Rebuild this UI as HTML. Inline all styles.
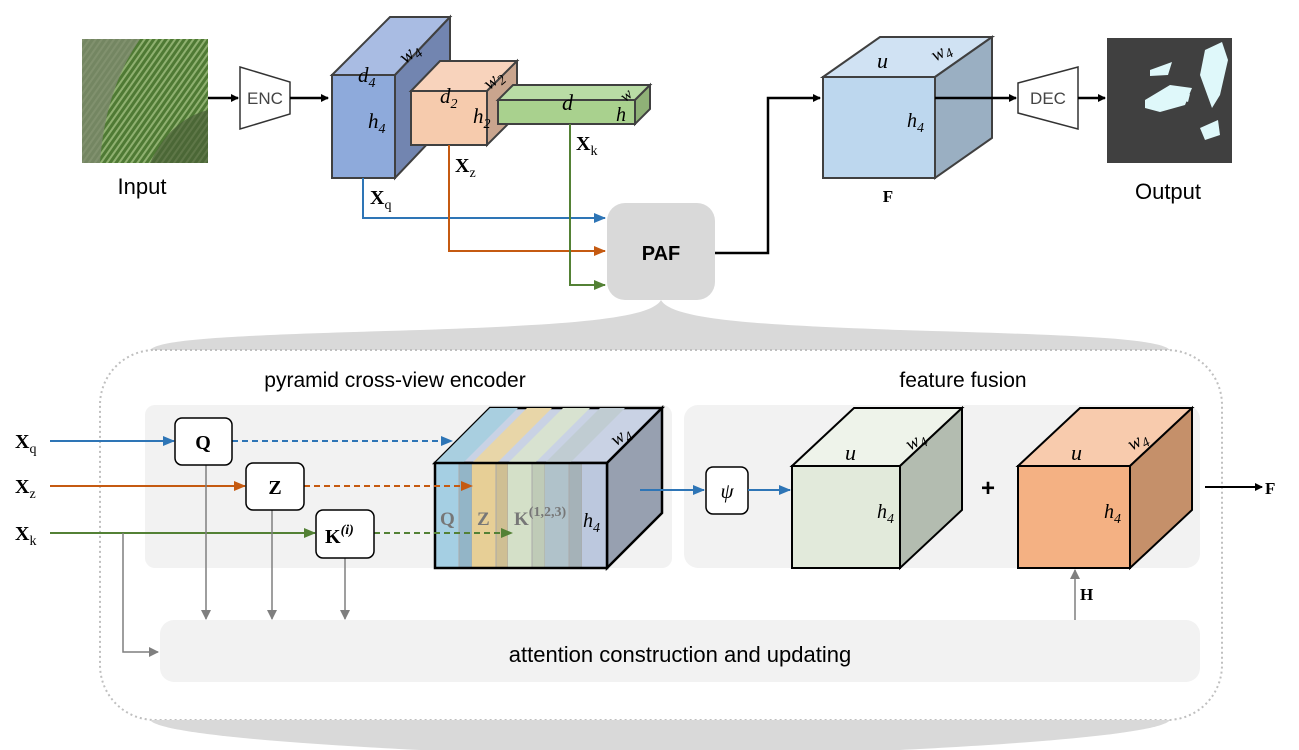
<!DOCTYPE html>
<html><head><meta charset="utf-8"><style>
body{margin:0;background:#fff}
svg{display:block}
text{font-family:"Liberation Sans",sans-serif}
.m{font-family:"Liberation Serif",serif;font-style:italic}
.b{font-family:"Liberation Serif",serif;font-weight:bold}
</style></head><body>
<svg width="1299" height="750" viewBox="0 0 1299 750" xmlns="http://www.w3.org/2000/svg">
<defs>
<marker id="ak" markerWidth="8" markerHeight="8" refX="7" refY="4" orient="auto" markerUnits="userSpaceOnUse"><path d="M0,0 L8,4 L0,8z" fill="#000"/></marker>
<marker id="ab" markerWidth="12" markerHeight="10" refX="11" refY="5" orient="auto" markerUnits="userSpaceOnUse"><path d="M0,0 L12,5 L0,10z" fill="#2e75b6"/></marker>
<marker id="ao" markerWidth="12" markerHeight="10" refX="11" refY="5" orient="auto" markerUnits="userSpaceOnUse"><path d="M0,0 L12,5 L0,10z" fill="#c55a11"/></marker>
<marker id="ag" markerWidth="12" markerHeight="10" refX="11" refY="5" orient="auto" markerUnits="userSpaceOnUse"><path d="M0,0 L12,5 L0,10z" fill="#538135"/></marker>
<marker id="ay" markerWidth="10" markerHeight="10" refX="9" refY="5" orient="auto" markerUnits="userSpaceOnUse"><path d="M0,0 L10,5 L0,10z" fill="#7f7f7f"/></marker>
<pattern id="stripe" width="5" height="5" patternUnits="userSpaceOnUse" patternTransform="rotate(35)"><rect width="5" height="5" fill="#4f7a34"/><rect width="2" height="5" fill="#8fb070"/></pattern>
</defs>

<!-- Input -->
<rect x="82" y="39" width="126" height="124" fill="url(#stripe)"/>
<path d="M82,39 L140,39 Q105,90 100,163 L82,163z" fill="#7d8a6e" opacity=".8"/>
<path d="M150,163 Q170,120 208,110 L208,163z" fill="#4a5f38" opacity=".7"/>
<text x="142" y="194" font-size="22" text-anchor="middle">Input</text>
<line x1="208" y1="98" x2="238" y2="98" stroke="#000" stroke-width="2.5" marker-end="url(#ak)"/>
<path d="M240,67 L290,82 L290,114 L240,129z" fill="#fff" stroke="#333" stroke-width="1.5"/>
<text x="265" y="104" font-size="17" text-anchor="middle" fill="#444">ENC</text>
<line x1="290" y1="98" x2="328" y2="98" stroke="#000" stroke-width="2.5" marker-end="url(#ak)"/>

<!-- blue cube -->
<polygon points="332,75 390,17 450,17 395,75" fill="#a9bce3" stroke="#404040" stroke-width="2"/>
<polygon points="395,75 450,17 450,120 395,178" fill="#7285b0" stroke="#404040" stroke-width="2"/>
<rect x="332" y="75" width="63" height="103" fill="#8eaadb" stroke="#404040" stroke-width="2"/>
<text x="398" y="60" class="m" font-size="20" transform="rotate(-40 408 52)">w<tspan font-size="14" dy="4">4</tspan></text>
<text x="358" y="82" class="m" font-size="21">d<tspan font-size="14" dy="5">4</tspan></text>
<text x="368" y="128" class="m" font-size="21">h<tspan font-size="14" dy="5">4</tspan></text>
<!-- orange -->
<polygon points="411,91 440,61 517,61 487,91" fill="#f8d3bc" stroke="#404040" stroke-width="2"/>
<polygon points="487,91 517,61 517,115 487,145" fill="#c9a58e" stroke="#404040" stroke-width="2"/>
<rect x="411" y="91" width="76" height="54" fill="#f6cbad" stroke="#404040" stroke-width="2"/>
<text x="482" y="86" class="m" font-size="19" transform="rotate(-40 492 78)">w<tspan font-size="14" dy="4">2</tspan></text>
<text x="440" y="103" class="m" font-size="21">d<tspan font-size="14" dy="5">2</tspan></text>
<text x="473" y="123" class="m" font-size="21">h<tspan font-size="14" dy="5">2</tspan></text>
<!-- green -->
<polygon points="498,100 513,85 650,85 635,100" fill="#b9dca5" stroke="#404040" stroke-width="2"/>
<polygon points="635,100 650,85 650,109 635,124" fill="#8fb177" stroke="#404040" stroke-width="2"/>
<rect x="498" y="100" width="137" height="24" fill="#a9d18e" stroke="#404040" stroke-width="2"/>
<text x="562" y="110" class="m" font-size="22">d</text>
<text x="616" y="121" class="m" font-size="20">h</text>
<text x="620" y="100" class="m" font-size="16" transform="rotate(-40 626 94)">w</text>

<!-- connectors -->
<path d="M363,178 V218 H605" fill="none" stroke="#2e75b6" stroke-width="2" marker-end="url(#ab)"/>
<path d="M449,145 V251 H605" fill="none" stroke="#c55a11" stroke-width="2" marker-end="url(#ao)"/>
<path d="M570,124 V285 H605" fill="none" stroke="#538135" stroke-width="2" marker-end="url(#ag)"/>
<text x="370" y="204" class="b" font-size="20">X<tspan font-size="14" font-weight="normal" dy="5">q</tspan></text>
<text x="455" y="172" class="b" font-size="20">X<tspan font-size="14" font-weight="normal" dy="5">z</tspan></text>
<text x="576" y="150" class="b" font-size="20">X<tspan font-size="14" font-weight="normal" dy="5">k</tspan></text>

<rect x="607" y="203" width="108" height="97" rx="18" fill="#d9d9d9"/>
<text x="661" y="260" font-size="20" font-weight="bold" text-anchor="middle">PAF</text>
<path d="M715,253 H768 V98 H820" fill="none" stroke="#000" stroke-width="2.5" marker-end="url(#ak)"/>

<!-- F cube -->
<polygon points="823,77 880,37 992,37 935,77" fill="#d0e2f3" stroke="#404040" stroke-width="2"/>
<polygon points="935,77 992,37 992,138 935,178" fill="#9aafc2" stroke="#404040" stroke-width="2"/>
<rect x="823" y="77" width="112" height="101" fill="#bdd7ee" stroke="#404040" stroke-width="2"/>
<text x="877" y="68" class="m" font-size="22">u</text>
<text x="930" y="58" class="m" font-size="19" transform="rotate(-30 940 50)">w<tspan font-size="14" dy="4">4</tspan></text>
<text x="907" y="127" class="m" font-size="20">h<tspan font-size="14" dy="5">4</tspan></text>
<text x="888" y="202" class="b" font-size="17" text-anchor="middle">F</text>
<line x1="935" y1="98" x2="1016" y2="98" stroke="#000" stroke-width="2.5" marker-end="url(#ak)"/>
<path d="M1018,83 L1078,67 L1078,129 L1018,113z" fill="#fff" stroke="#333" stroke-width="1.5"/>
<text x="1048" y="104" font-size="17" text-anchor="middle" fill="#444">DEC</text>
<line x1="1078" y1="98" x2="1105" y2="98" stroke="#000" stroke-width="2.5" marker-end="url(#ak)"/>
<rect x="1107" y="38" width="125" height="125" fill="#404040"/>
<path d="M1150,70 L1172,62 L1168,75 L1150,76z M1145,100 L1170,85 L1192,88 L1185,105 L1160,112 L1145,108z M1205,50 L1222,42 L1228,60 L1220,95 L1212,108 L1200,75z M1200,128 L1218,120 L1220,135 L1205,140z M1178,98 L1190,94 L1188,102z" fill="#dff8fa"/>
<text x="1168" y="199" font-size="22" text-anchor="middle">Output</text>

<!-- brace -->
<path d="M661,300 C650,320 560,325 420,330 C250,335 160,338 150,350 L1170,350 C1160,338 1070,335 900,330 C760,325 672,320 661,300z" fill="#d9d9d9"/>
<rect x="100" y="350" width="1122" height="370" rx="55" fill="none" stroke="#bfbfbf" stroke-width="2" stroke-dasharray="2,3"/>
<path d="M150,720 L1170,720 C1160,735 1000,745 900,750 L420,750 C320,745 160,735 150,720z" fill="#d9d9d9"/>

<text x="395" y="387" font-size="21" text-anchor="middle">pyramid cross-view encoder</text>
<text x="963" y="387" font-size="21" text-anchor="middle">feature fusion</text>

<rect x="145" y="405" width="527" height="163" rx="10" fill="#f2f2f2"/>
<rect x="684" y="405" width="516" height="163" rx="14" fill="#f2f2f2"/>
<rect x="160" y="620" width="1040" height="62" rx="14" fill="#f2f2f2"/>
<text x="680" y="662" font-size="22" text-anchor="middle">attention construction and updating</text>

<!-- inputs -->
<text x="15" y="448" class="b" font-size="20">X<tspan font-size="14" font-weight="normal" dy="5">q</tspan></text>
<text x="15" y="493" class="b" font-size="20">X<tspan font-size="14" font-weight="normal" dy="5">z</tspan></text>
<text x="15" y="540" class="b" font-size="20">X<tspan font-size="14" font-weight="normal" dy="5">k</tspan></text>
<line x1="50" y1="441" x2="174" y2="441" stroke="#2e75b6" stroke-width="2" marker-end="url(#ab)"/>
<line x1="50" y1="486" x2="245" y2="486" stroke="#c55a11" stroke-width="2" marker-end="url(#ao)"/>
<line x1="50" y1="533" x2="315" y2="533" stroke="#538135" stroke-width="2" marker-end="url(#ag)"/>
<path d="M123,533 V652 H158" fill="none" stroke="#7f7f7f" stroke-width="1.5" marker-end="url(#ay)"/>
<line x1="206" y1="465" x2="206" y2="619" stroke="#7f7f7f" stroke-width="1.5" marker-end="url(#ay)"/>
<line x1="272" y1="510" x2="272" y2="619" stroke="#7f7f7f" stroke-width="1.5" marker-end="url(#ay)"/>
<line x1="345" y1="558" x2="345" y2="619" stroke="#7f7f7f" stroke-width="1.5" marker-end="url(#ay)"/>

<!-- stacked cube -->
<polygon points="435,463 490,408 662,408 607,463" fill="#c9d2e4" stroke="#000" stroke-width="2.5"/>
<polygon points="435,463 490,408 518,408 463,463" fill="#a9cfe0"/>
<polygon points="472,463 527,408 552,408 497,463" fill="#e8d6a8"/>
<polygon points="508,463 563,408 590,408 535,463" fill="#d8e2d0"/>
<polygon points="545,463 600,408 625,408 570,463" fill="#c0ccd2"/>
<polygon points="607,463 662,408 662,513 607,568" fill="#97a0b0" stroke="#000" stroke-width="2.5"/>
<rect x="435" y="463" width="24" height="105" fill="#a5cfe3"/>
<rect x="459" y="463" width="13" height="105" fill="#93b5c7" stroke="#aaa"/>
<rect x="472" y="463" width="24" height="105" fill="#e7cf96"/>
<rect x="496" y="463" width="12" height="105" fill="#cfbf93" stroke="#aaa"/>
<rect x="508" y="463" width="24" height="105" fill="#d4e0c8"/>
<rect x="532" y="463" width="13" height="105" fill="#bfcbb7" stroke="#aaa"/>
<rect x="545" y="463" width="24" height="105" fill="#b0c2ca"/>
<rect x="569" y="463" width="13" height="105" fill="#a5b2b8" stroke="#aaa"/>
<rect x="582" y="463" width="25" height="105" fill="#bcc8de"/>
<rect x="435" y="463" width="172" height="105" fill="none" stroke="#000" stroke-width="2.5"/>
<text x="440" y="525" class="b" font-size="19" fill="#777">Q</text>
<text x="477" y="525" class="b" font-size="19" fill="#777">Z</text>
<text x="514" y="525" class="b" font-size="19" fill="#777">K<tspan font-size="14" dy="-9">(1,2,3)</tspan></text>
<text x="583" y="527" class="m" font-size="20">h<tspan font-size="14" dy="5">4</tspan></text>
<text x="610" y="442" class="m" font-size="19" transform="rotate(-35 620 435)">w<tspan font-size="14" dy="4">4</tspan></text>

<line x1="232" y1="441" x2="452" y2="441" stroke="#2e75b6" stroke-width="2" stroke-dasharray="6,4" marker-end="url(#ab)"/>
<line x1="304" y1="486" x2="472" y2="486" stroke="#c55a11" stroke-width="2" stroke-dasharray="6,4" marker-end="url(#ao)"/>
<line x1="374" y1="533" x2="512" y2="533" stroke="#538135" stroke-width="2" stroke-dasharray="6,4" marker-end="url(#ag)"/>

<rect x="175" y="418" width="57" height="47" rx="7" fill="#fff" stroke="#000" stroke-width="1.5"/>
<text x="203" y="449" class="b" font-size="20" text-anchor="middle">Q</text>
<rect x="246" y="463" width="58" height="47" rx="7" fill="#fff" stroke="#000" stroke-width="1.5"/>
<text x="275" y="494" class="b" font-size="20" text-anchor="middle">Z</text>
<rect x="316" y="510" width="58" height="48" rx="7" fill="#fff" stroke="#000" stroke-width="1.5"/>
<text x="325" y="543" class="b" font-size="20">K<tspan font-size="14" dy="-9" font-style="italic">(i)</tspan></text>

<line x1="640" y1="490" x2="704" y2="490" stroke="#2e75b6" stroke-width="2" marker-end="url(#ab)"/>
<rect x="706" y="467" width="42" height="47" rx="7" fill="#fff" stroke="#000" stroke-width="1.5"/>
<text x="727" y="498" class="m" font-size="21" text-anchor="middle">ψ</text>
<line x1="748" y1="490" x2="790" y2="490" stroke="#2e75b6" stroke-width="2" marker-end="url(#ab)"/>

<!-- green cube -->
<polygon points="792,466 854,408 962,408 900,466" fill="#eef3ea" stroke="#000" stroke-width="2"/>
<polygon points="900,466 962,408 962,510 900,568" fill="#b3bcb0" stroke="#000" stroke-width="2"/>
<rect x="792" y="466" width="108" height="102" fill="#e2eadb" stroke="#000" stroke-width="2"/>
<text x="845" y="460" class="m" font-size="22">u</text>
<text x="905" y="447" class="m" font-size="19" transform="rotate(-30 915 440)">w<tspan font-size="14" dy="4">4</tspan></text>
<text x="877" y="518" class="m" font-size="20">h<tspan font-size="14" dy="5">4</tspan></text>
<text x="988" y="496" font-size="24" font-weight="bold" text-anchor="middle">+</text>
<!-- orange cube -->
<polygon points="1018,466 1080,408 1192,408 1130,466" fill="#f8cbad" stroke="#000" stroke-width="2"/>
<polygon points="1130,466 1192,408 1192,510 1130,568" fill="#c5906a" stroke="#000" stroke-width="2"/>
<rect x="1018" y="466" width="112" height="102" fill="#f4b183" stroke="#000" stroke-width="2"/>
<text x="1071" y="460" class="m" font-size="22">u</text>
<text x="1127" y="447" class="m" font-size="19" transform="rotate(-30 1137 440)">w<tspan font-size="14" dy="4">4</tspan></text>
<text x="1104" y="518" class="m" font-size="20">h<tspan font-size="14" dy="5">4</tspan></text>
<line x1="1075" y1="620" x2="1075" y2="570" stroke="#7f7f7f" stroke-width="1.5" marker-end="url(#ay)"/>
<text x="1080" y="600" class="b" font-size="17">H</text>
<line x1="1205" y1="487" x2="1262" y2="487" stroke="#000" stroke-width="2" marker-end="url(#ak)"/>
<text x="1265" y="494" class="b" font-size="17">F</text>
</svg>
</body></html>
